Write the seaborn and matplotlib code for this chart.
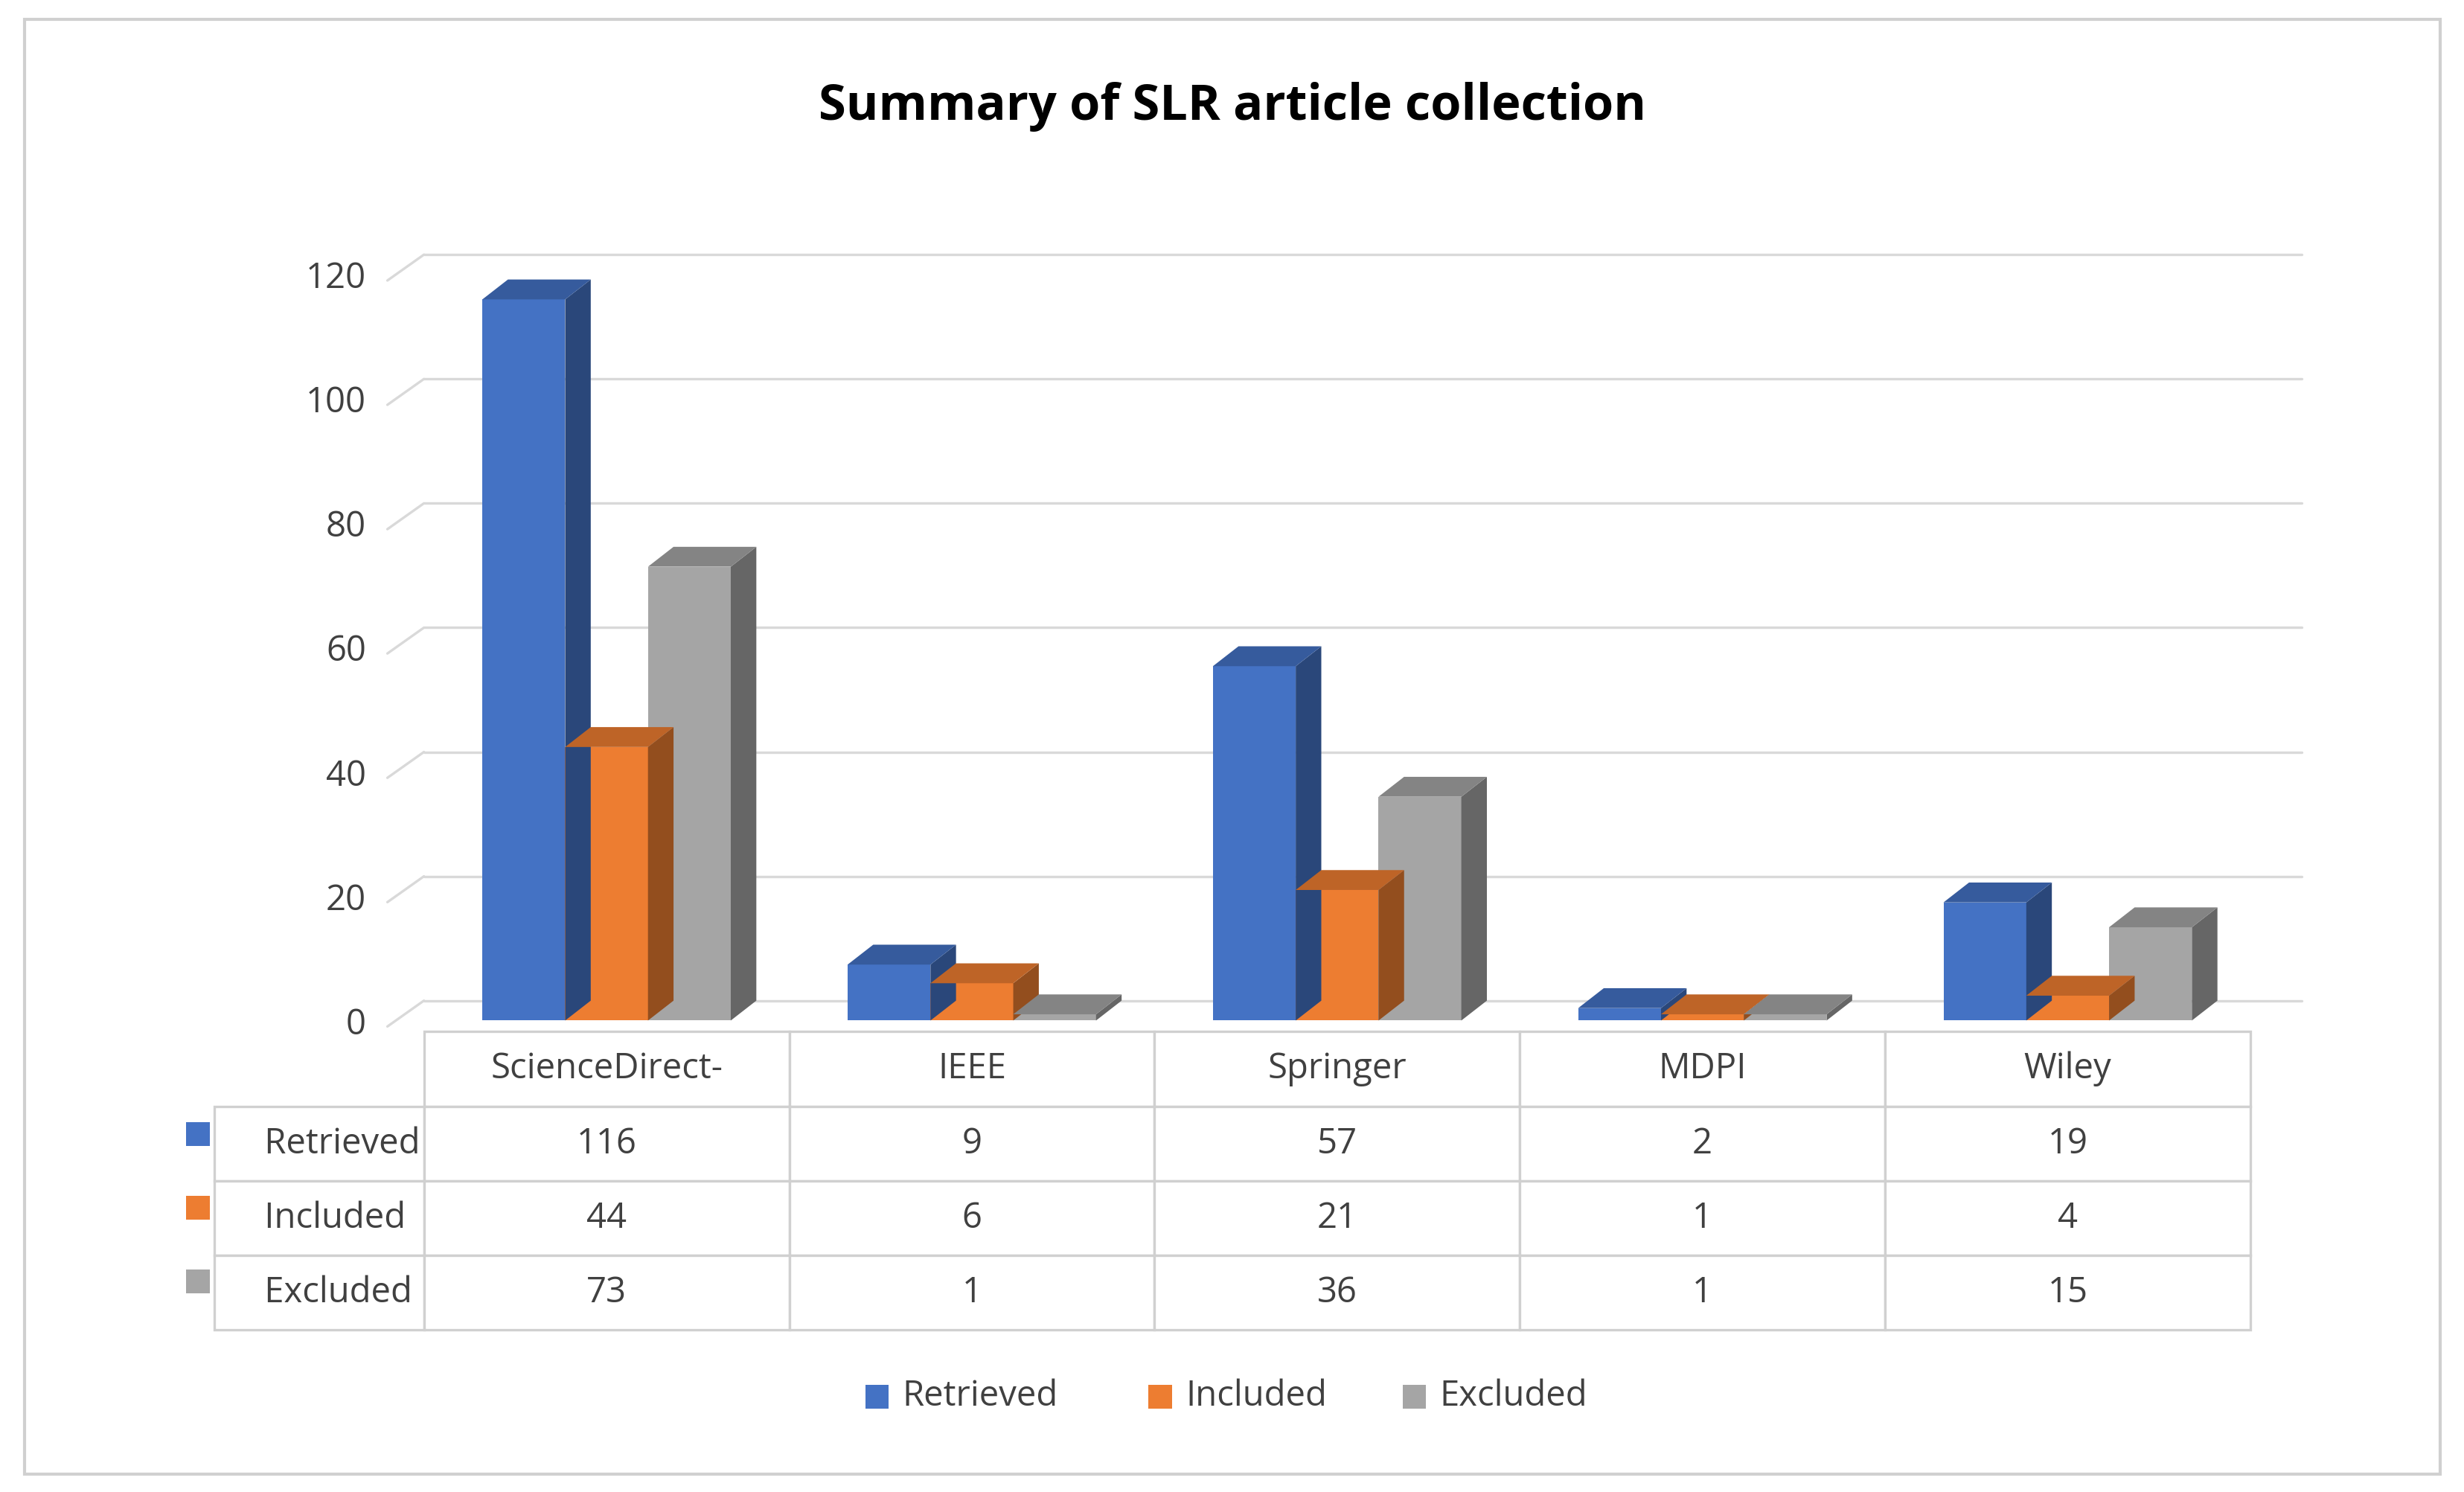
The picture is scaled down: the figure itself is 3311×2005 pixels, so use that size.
import matplotlib
matplotlib.use("Agg")
import matplotlib.pyplot as plt
import matplotlib.colors as mcolors
from matplotlib.patches import Polygon, Rectangle
import pandas as pd
import seaborn as sns

sources = ["ScienceDirect-", "IEEE", "Springer", "MDPI", "Wiley"]
series = ["Retrieved", "Included", "Excluded"]
retrieved = [116, 9, 57, 2, 19]
included = [44, 6, 21, 1, 4]
excluded = [73, 1, 36, 1, 15]
colors = ["#4472C4", "#ED7D31", "#A5A5A5"]

df = pd.DataFrame({
    "source": sources * 3,
    "series": [s for s in series for _ in sources],
    "value": retrieved + included + excluded,
})

sns.set_theme(style="white")
plt.rcParams["font.family"] = ["Open Sans", "DejaVu Sans"]

fig = plt.figure(figsize=(16.56, 10.025), dpi=200)
fig.patches.append(Rectangle((0.01, 0.012), 0.98, 0.975, transform=fig.transFigure,
                             fill=False, edgecolor="#D0D0D0", lw=1.5))
ax = fig.add_axes([0.172, 0.316, 0.741, 0.5])

sns.barplot(data=df, x="source", y="value", hue="series", palette=colors,
            width=0.68, saturation=1, ax=ax, legend=False, zorder=3, linewidth=0)

ax.set_ylim(0, 120)
ax.set_xlim(-0.5, 4.5)
dx, dy = 0.07, 3.2
for y in range(0, 121, 20):
    ax.plot([-0.5, 4.5 + 2 * dx], [y + dy, y + dy], color="#D9D9D9", lw=1.2,
            clip_on=False, zorder=0)
    ax.plot([-0.6, -0.5], [y - dy * 0.3, y + dy], color="#D9D9D9", lw=1.2, clip_on=False)

for i, p in enumerate(ax.patches):
    p.set_edgecolor("none")
    base = colors[i // len(sources)]
    rgb = mcolors.to_rgb(base)
    side = tuple(c * 0.62 for c in rgb)
    top = tuple(c * 0.8 for c in rgb)
    x0, w, h = p.get_x(), p.get_width(), p.get_height()
    ax.add_patch(Polygon([(x0 + w, 0), (x0 + w + dx, dy), (x0 + w + dx, h + dy), (x0 + w, h)],
                         closed=True, facecolor=side, edgecolor="none", zorder=3, clip_on=False))
    ax.add_patch(Polygon([(x0, h), (x0 + dx, h + dy), (x0 + w + dx, h + dy), (x0 + w, h)],
                         closed=True, facecolor=top, edgecolor="none", zorder=3, clip_on=False))

for s in ax.spines.values():
    s.set_visible(False)
ax.set_xlabel("")
ax.set_ylabel("")
ax.set_xticks([])
ax.set_yticks(range(0, 121, 20))
ax.tick_params(axis="y", labelsize=17, colors="#404040", length=0, pad=28)

cell_text = [[str(v) for v in row] for row in (retrieved, included, excluded)]
tbl = ax.table(cellText=[sources] + cell_text,
               rowLabels=[""] + ["     " + s for s in series],
               cellLoc="center", rowLoc="left",
               bbox=[0, -0.415, 1.0, 0.4])
tbl.auto_set_font_size(False)
for (r, c), cell in tbl.get_celld().items():
    cell.set_edgecolor("#D0D0D0")
    cell.set_linewidth(1.2)
    cell.get_text().set_fontsize(17)
    cell.get_text().set_color("#404040")
    if c == -1:
        cell.PAD = 0.02
        if r == 0:
            cell.set_visible(False)

for k, s in enumerate(series):
    yc = 1 - (700 + 47 * k + 22) / 950
    fig.patches.append(Rectangle((0.0755, yc - 0.008), 0.0095, 0.016, transform=fig.transFigure,
                                 facecolor=colors[k], edgecolor="none"))

# legend
xs = [0.351, 0.466, 0.569]
for k, s in enumerate(series):
    fig.patches.append(Rectangle((xs[k], 0.056), 0.0095, 0.016, transform=fig.transFigure,
                                 facecolor=colors[k], edgecolor="none"))
    fig.text(xs[k] + 0.015, 0.064, s, fontsize=17, color="#404040", va="center")

fig.suptitle("Summary of SLR article collection", y=0.945, fontsize=24,
             fontweight="bold", color="black")
fig.savefig("out.png", dpi=200, facecolor="white")
